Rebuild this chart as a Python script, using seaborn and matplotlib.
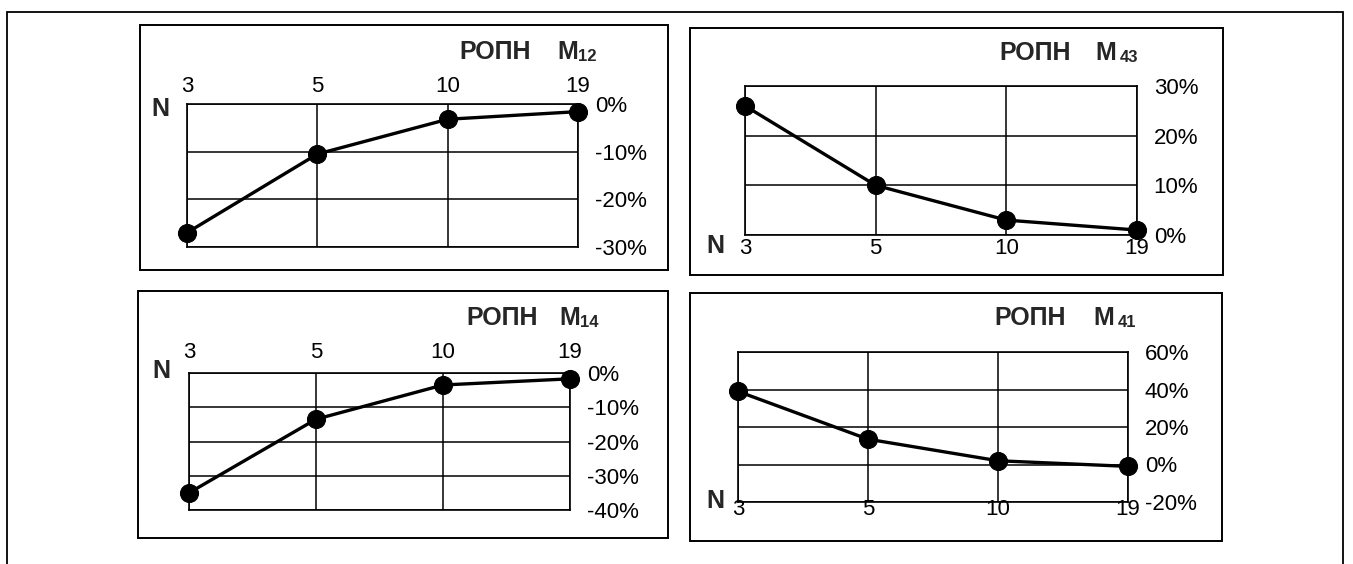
import pandas as pd
import matplotlib
matplotlib.use("Agg")
import matplotlib.pyplot as plt
from matplotlib.patches import Rectangle
import seaborn as sns

# values (percent)
n_values = [3, 5, 10, 19]
ropn_m12 = [-27.0, -10.5, -3.2, -1.6]
ropn_m43 = [26.0, 10.0, 3.0, 1.0]
ropn_m14 = [-35.0, -13.5, -3.5, -1.7]
ropn_m41 = [39.0, 13.5, 2.0, -1.0]

ticks_m12 = [-30, -20, -10, 0]
ticks_m43 = [0, 10, 20, 30]
ticks_m14 = [-40, -30, -20, -10, 0]
ticks_m41 = [-20, 0, 20, 40, 60]

title_main = "РОПН"
subs = ["12", "43", "14", "41"]

W, H = 1353, 564


def fx(x):
    return x / W


def fy(y):
    return 1 - y / H


def main():
    sns.set_style("white")
    plt.rcParams['font.family'] = ['Liberation Sans', 'DejaVu Sans']

    fig = plt.figure(figsize=(W / 100, H / 100), dpi=100)

    # outer frame
    fig.add_artist(Rectangle((fx(7), fy(575)), fx(1343) - fx(7), fy(12) - fy(575),
                             transform=fig.transFigure, fill=False, ec='black', lw=1.3))

    panels = [
        # values, ticks, sub, box px, plot px, xlabels top?, xpad, title (ropn_x, m_x, base), N (x, base), sub gap
        dict(vals=ropn_m12, ticks=ticks_m12, sub=subs[0], box=(140, 25, 668, 270),
             plot=(187, 104, 578, 247), top=True, xpad=5, title=(459, 557, 59), n=(151, 116), gap=0.5),
        dict(vals=ropn_m43, ticks=ticks_m43, sub=subs[1], box=(690, 28, 1223, 275),
             plot=(745, 86, 1137, 235), top=False, xpad=2, title=(999, 1095, 60), n=(706, 253), gap=3),
        dict(vals=ropn_m14, ticks=ticks_m14, sub=subs[2], box=(138, 291, 668, 538),
             plot=(189, 373, 570, 510), top=True, xpad=7, title=(466, 559, 325), n=(152, 378), gap=0.5),
        dict(vals=ropn_m41, ticks=ticks_m41, sub=subs[3], box=(690, 293, 1222, 541),
             plot=(738, 352, 1128, 502), top=False, xpad=-2, title=(994, 1093, 325), n=(706, 508), gap=3),
    ]

    for p in panels:
        bx0, by0, bx1, by1 = p['box']
        fig.add_artist(Rectangle((fx(bx0), fy(by1)), fx(bx1) - fx(bx0), fy(by0) - fy(by1),
                                 transform=fig.transFigure, fill=False, ec='black', lw=1.4))

        x0, y0, x1, y1 = p['plot']
        ax = fig.add_axes([fx(x0), fy(y1), fx(x1) - fx(x0), fy(y0) - fy(y1)])

        df = pd.DataFrame({'pos': range(len(n_values)), 'value': p['vals']})
        sns.lineplot(data=df, x='pos', y='value', ax=ax, color='black', linewidth=2.4,
                     marker='o', markersize=13, markeredgecolor='black')
        for ln in ax.lines:
            ln.set_clip_on(False)
            ln.set_zorder(5)

        ax.set_xlim(0, len(n_values) - 1)
        ax.set_ylim(min(p['ticks']), max(p['ticks']))
        ax.set_xticks(range(len(n_values)))
        ax.set_xticklabels([str(n) for n in n_values])
        ax.set_yticks(p['ticks'])
        ax.set_yticklabels([f"{t}%" for t in p['ticks']])
        ax.set_xlabel('')
        ax.set_ylabel('')

        ax.yaxis.tick_right()
        if p['top']:
            ax.xaxis.tick_top()
        ax.tick_params(axis='both', length=0, labelsize=16, colors='black')
        ax.tick_params(axis='y', pad=12)
        ax.tick_params(axis='x', pad=p['xpad'])

        ax.grid(True, color='black', linewidth=1.1)
        ax.set_axisbelow(True)
        for s in ax.spines.values():
            s.set_visible(True)
            s.set_color('black')
            s.set_linewidth(1.2)

        rx, mx, base = p['title']
        fig.text(fx(rx), fy(base), title_main, fontsize=18, weight='bold', va='baseline')
        m_txt = fig.text(fx(mx), fy(base), "M", fontsize=18, weight='bold', va='baseline')
        ax.annotate(p['sub'], xy=(1, 0), xycoords=m_txt, xytext=(p['gap'], 0),
                    textcoords='offset points', fontsize=12, weight='bold',
                    ha='left', va='bottom', annotation_clip=False)

        nx, nb = p['n']
        fig.text(fx(nx), fy(nb), "N", fontsize=18, weight='bold', va='baseline')

    fig.savefig("out.png", dpi=100)


if __name__ == '__main__':
    main()
